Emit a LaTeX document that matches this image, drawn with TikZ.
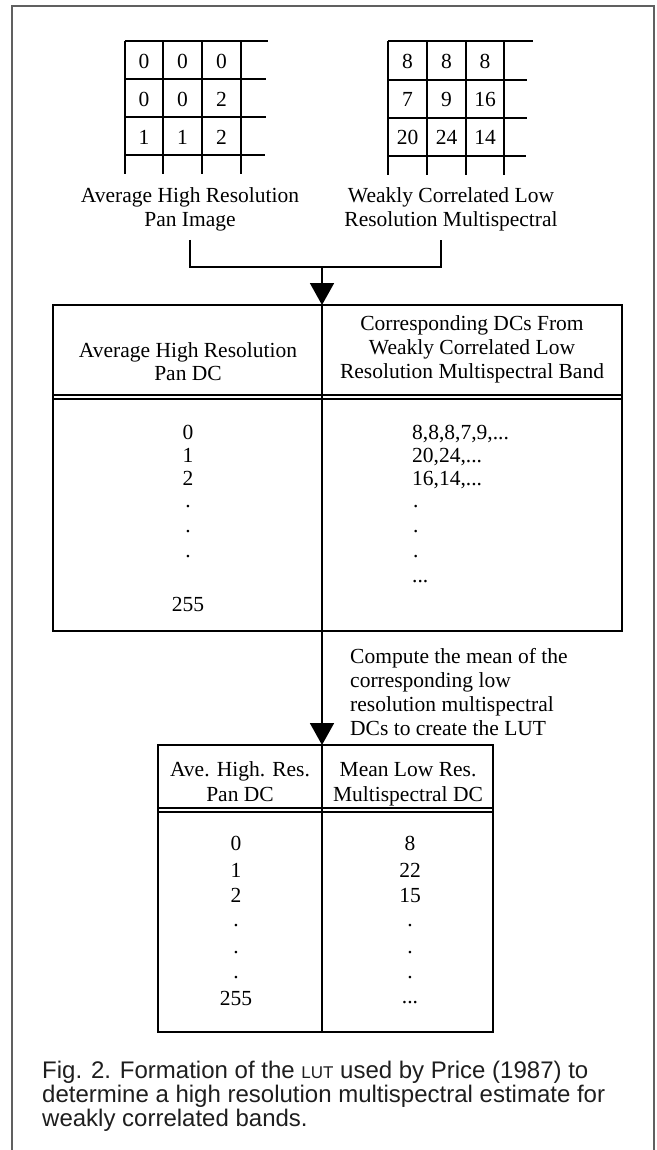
\documentclass[tikz,border=0pt]{standalone}
\usepackage{fontspec}
\setmainfont{Liberation Serif}
\newfontfamily\capfont{Liberation Sans}
\usetikzlibrary{arrows.meta}
\definecolor{framegray}{HTML}{606060}
\definecolor{captext}{HTML}{1E1E1E}
\tikzset{
  txt/.style={font=\fontsize{21.5}{23}\selectfont, inner sep=0pt, anchor=base},
  txtw/.style={txt, anchor=base west},
  gridline/.style={line width=1.8pt},
  tabline/.style={line width=1.8pt},
  dblline/.style={line width=1.3pt},
  frameline/.style={line width=1.3pt, draw=framegray},
  conn/.style={line width=1.8pt},
  arr/.style={conn, -{Triangle[width=24pt,length=22pt]}},
  captxt/.style={font=\capfont\fontsize{24}{24}\selectfont, text=captext, inner sep=0pt, anchor=base west},
}
\begin{document}
\begin{tikzpicture}[x=1pt,y=-1pt]
\useasboundingbox (0,0) rectangle (656,1150);
% outer frame (open at bottom)
\draw[frameline] (12,1150) -- (12,6) -- (654,6) -- (654,1150);

% ---- grid 1 ----
\draw[gridline] (125,41) -- (268,41);
\draw[gridline] (125,79) -- (266,79);
\draw[gridline] (125,117) -- (266,117);
\draw[gridline] (125,155) -- (265,155);
\foreach \x in {125,163,202,241} \draw[gridline] (\x,41) -- (\x,174);
\node[txt] (a11) at (144,69) {0};
\node[txt] (a12) at (182.5,69) {0};
\node[txt] (a13) at (221.5,69) {0};
\node[txt] (a21) at (144,107) {0};
\node[txt] (a22) at (182.5,107) {0};
\node[txt] (a23) at (221.5,107) {2};
\node[txt] (a31) at (144,145) {1};
\node[txt] (a32) at (182.5,145) {1};
\node[txt] (a33) at (221.5,145) {2};

% ---- grid 2 ----
\draw[gridline] (388,41) -- (533,41);
\draw[gridline] (388,80) -- (527,80);
\draw[gridline] (388,118) -- (527,118);
\draw[gridline] (388,156) -- (526,156);
\foreach \x in {388,427,466,504} \draw[gridline] (\x,41) -- (\x,175);
\node[txt] (b11) at (407.5,69) {8};
\node[txt] (b12) at (446.5,69) {8};
\node[txt] (b13) at (485,69) {8};
\node[txt] (b21) at (407.5,107) {7};
\node[txt] (b22) at (446.5,107) {9};
\node[txt] (b23) at (485,107) {16};
\node[txt] (b31) at (407.5,145) {20};
\node[txt] (b32) at (446.5,145) {24};
\node[txt] (b33) at (485,145) {14};

% labels under grids
\node[txt] (la1) at (190,203) {Average High Resolution};
\node[txt] (la2) at (190,227) {Pan Image};
\node[txt] (lb1) at (451,203) {Weakly Correlated Low};
\node[txt] (lb2) at (451,227) {Resolution Multispectral};

% bracket connector
\coordinate (bl) at (190,240);
\coordinate (br) at (441,240);
\coordinate (bm) at (322,267);
\coordinate (t1top) at (322,305);
\draw[conn] (bl) |- (bm) -| (br);
\draw[arr] (bm) -- (t1top);

% ---- table 1 ----
\draw[tabline] (53,305) rectangle (622,631);
\draw[tabline] (t1top) -- (322,631);
\draw[dblline] (53,395) -- (622,395);
\draw[dblline] (53,399) -- (622,399);
\node[txt] (h1r1) at (472,330) {Corresponding DCs From};
\node[txt] (h1r2) at (472,354) {Weakly Correlated Low};
\node[txt] (h1r3) at (472,378) {Resolution Multispectral Band};
\node[txt] (h1l1) at (188,357) {Average High Resolution};
\node[txt] (h1l2) at (188,380) {Pan DC};
\node[txt] (r1l1) at (188,439) {0};
\node[txt] (r1l2) at (188,462) {1};
\node[txt] (r1l3) at (188,485) {2};
\node[txt] (r1l4) at (188,507) {.};
\node[txt] (r1l5) at (188,532) {.};
\node[txt] (r1l6) at (188,557) {.};
\node[txt] (r1l7) at (188,611) {255};
\node[txtw] (r1r1) at (412,439) {8,8,8,7,9,...};
\node[txtw] (r1r2) at (412,462) {20,24,...};
\node[txtw] (r1r3) at (412,485) {16,14,...};
\node[txtw] (r1r4) at (413,507) {.};
\node[txtw] (r1r5) at (413,532) {.};
\node[txtw] (r1r6) at (413,557) {.};
\node[txtw] (r1r7) at (412,582) {...};

% arrow to table 2
\coordinate (t1bot) at (322,631);
\coordinate (t2top) at (322,745);
\draw[arr] (t1bot) -- (t2top);
\node[txtw] (c1) at (350,663) {Compute the mean of the};
\node[txtw] (c2) at (350,687) {corresponding low};
\node[txtw] (c3) at (350,711) {resolution multispectral};
\node[txtw] (c4) at (350,735) {DCs to create the LUT};

% ---- table 2 ----
\draw[tabline] (158,745) rectangle (493,1032);
\draw[tabline] (t2top) -- (322,1032);
\draw[dblline] (158,808) -- (493,808);
\draw[dblline] (158,812) -- (493,812);
\node[txt] (h2l1) at (240,776) {Ave. High. Res.};
\node[txt] (h2l2) at (240,801) {Pan DC};
\node[txt] (h2r1) at (408,776) {Mean Low Res.};
\node[txt] (h2r2) at (408,801) {Multispectral DC};
\node[txt] (s1) at (236,850) {0};
\node[txt] (s2) at (236,877) {1};
\node[txt] (s3) at (236,902) {2};
\node[txt] (s4) at (236,926) {.};
\node[txt] (s5) at (236,953) {.};
\node[txt] (s6) at (236,978) {.};
\node[txt] (s7) at (236,1005) {255};
\node[txt] (m1) at (410,850) {8};
\node[txt] (m2) at (410,877) {22};
\node[txt] (m3) at (410,902) {15};
\node[txt] (m4) at (410,926) {.};
\node[txt] (m5) at (410,953) {.};
\node[txt] (m6) at (410,978) {.};
\node[txt] (m7) at (410,1003) {...};

% caption
\node[captxt] (cap1) at (42,1078) {Fig. 2. Formation of the {\fontsize{17}{17}\selectfont LUT} used by Price (1987) to};
\node[captxt] (cap2) at (42,1102) {determine a high resolution multispectral estimate for};
\node[captxt] (cap3) at (42,1126) {weakly correlated bands.};
\end{tikzpicture}
\end{document}
